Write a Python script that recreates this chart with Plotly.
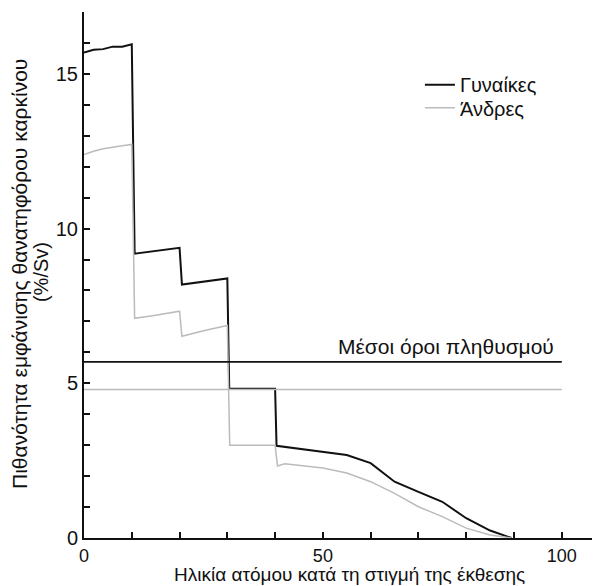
import plotly.graph_objects as go

# Women (Γυναίκες)
women_x = [0, 2, 4, 6, 8, 10, 10.6, 15, 20, 20.5, 25, 30, 30.4, 35, 40, 40.3, 45, 50, 55, 60, 65, 70, 75, 80, 85, 89.5]
women_y = [15.69, 15.78, 15.8, 15.88, 15.88, 15.96, 9.19, 9.28, 9.38, 8.19, 8.28, 8.39, 4.82, 4.82, 4.82, 2.98, 2.88, 2.78, 2.68, 2.42, 1.82, 1.49, 1.17, 0.64, 0.24, 0.0]

# Men (Άνδρες)
men_x = [0, 2, 4, 6, 8, 10, 10.6, 15, 20, 20.5, 25, 30, 30.5, 35, 40, 40.5, 42, 50, 55, 60, 65, 70, 75, 80, 85, 89.5]
men_y = [12.39, 12.5, 12.58, 12.64, 12.68, 12.72, 7.1, 7.2, 7.33, 6.52, 6.7, 6.87, 3.0, 3.0, 3.0, 2.33, 2.4, 2.26, 2.1, 1.82, 1.44, 1.01, 0.69, 0.32, 0.1, 0.0]

# Population averages
avg_x = [0, 100]
avg_women = 5.69
avg_men = 4.8

x_ticks = [0, 50, 100]
x_minor = [10, 20, 30, 40, 60, 70, 80, 90]
y_ticks = [0, 5, 10, 15]
y_minor = [1, 2, 3, 4, 6, 7, 8, 9, 11, 12, 13, 14, 16]

x_title = "Ηλικία ατόμου κατά τη στιγμή της έκθεσης"
y_title_1 = "Πιθανότητα εμφάνισης θανατηφόρου καρκίνου"
y_title_2 = "(%/Sv)"
avg_label = "Μέσοι όροι πληθυσμού"

font = "Liberation Sans, Arial, sans-serif"
ink = "#111111"
grey = "#bbbbbb"

fig = go.Figure()
fig.add_trace(go.Scatter(x=women_x, y=women_y, mode="lines", name="Γυναίκες", legend="legend",
                         line=dict(color=ink, width=2)))
fig.add_trace(go.Scatter(x=men_x, y=men_y, mode="lines", name="Άνδρες", legend="legend2",
                         line=dict(color=grey, width=1.5)))
fig.add_trace(go.Scatter(x=avg_x, y=[avg_women, avg_women], mode="lines", showlegend=False,
                         line=dict(color=ink, width=1.8)))
fig.add_trace(go.Scatter(x=avg_x, y=[avg_men, avg_men], mode="lines", showlegend=False,
                         line=dict(color=grey, width=1.5)))

fig.add_annotation(x=75.7, y=6.2, text=avg_label, showarrow=False,
                   font=dict(size=21, color=ink, family=font), xanchor="center", yanchor="middle")

# axis titles
fig.add_annotation(xref="paper", yref="paper", x=0.5136, y=-0.0685, text=x_title, showarrow=False,
                   font=dict(size=19, color=ink, family=font), xanchor="center", yanchor="middle")
fig.add_annotation(xref="paper", yref="paper", x=-0.124, y=0.502, text=y_title_1, showarrow=False,
                   textangle=-90, font=dict(size=21, color=ink, family=font),
                   xanchor="center", yanchor="middle")
fig.add_annotation(xref="paper", yref="paper", x=-0.082, y=0.505, text=y_title_2, showarrow=False,
                   textangle=-90, font=dict(size=20, color=ink, family=font),
                   xanchor="center", yanchor="middle")

legend_style = dict(xanchor="left", yanchor="top", bgcolor="rgba(0,0,0,0)",
                    font=dict(size=20, family=font, color=ink), itemwidth=30)

# the page adds an 8px body margin, so margins are offset to keep the plot area in place
fig.update_layout(
    width=600, height=586,
    margin=dict(l=76, r=8, t=4, b=56, autoexpand=False),
    paper_bgcolor="white", plot_bgcolor="white",
    font=dict(family=font, size=20, color=ink),
    legend=dict(x=0.651, y=0.899, **legend_style),
    legend2=dict(x=0.651, y=0.855, **legend_style),
    showlegend=True,
)
fig.update_xaxes(range=[0, 108], showgrid=False, zeroline=False, automargin=False,
                 showline=True, linecolor=ink, linewidth=2,
                 tickmode="array", tickvals=x_ticks, ticktext=[str(v) for v in x_ticks],
                 ticks="inside", ticklen=6, tickwidth=1.5, tickcolor=ink,
                 ticklabelstandoff=0,
                 minor=dict(tickvals=x_minor, ticks="inside",
                            ticklen=6, tickwidth=1.5, tickcolor=ink),
                 tickfont=dict(size=18))
fig.update_yaxes(range=[0, 17], showgrid=False, zeroline=False, automargin=False,
                 showline=True, linecolor=ink, linewidth=2,
                 tickmode="array", tickvals=y_ticks, ticktext=[str(v) for v in y_ticks],
                 ticks="inside", ticklen=6, tickwidth=1.5, tickcolor=ink,
                 minor=dict(tickvals=y_minor, ticks="inside",
                            ticklen=6, tickwidth=1.5, tickcolor=ink),
                 tickfont=dict(size=20))

fig.write_html("out.html")
